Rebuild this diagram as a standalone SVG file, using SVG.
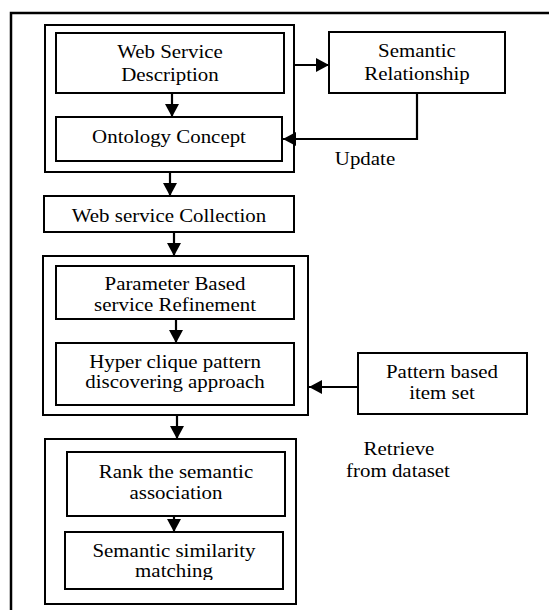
<svg xmlns="http://www.w3.org/2000/svg" width="549" height="610" viewBox="0 0 549 610">
<style>
.box{fill:#fff;stroke:#000;stroke-width:2}
.grp{fill:none;stroke:#000;stroke-width:2}
.t{font-family:"Liberation Serif","Times New Roman",serif;font-size:19px;fill:#000;text-anchor:middle}
.c{fill:none;stroke:#000;stroke-width:2.2}
</style>
<defs>
<marker id="ah" markerUnits="userSpaceOnUse" markerWidth="14" markerHeight="14" refX="13" refY="7" orient="auto">
<path d="M0,0 L13,7 L0,14 z" fill="#000"/>
</marker>
<clipPath id="clipSim"><rect x="-120" y="530" width="240" height="50"/></clipPath>
</defs>
<rect width="549" height="610" fill="#fff"/>
<path d="M11,610 V13 H549" fill="none" stroke="#000" stroke-width="2.5"/>

<g id="group1"><rect class="grp" x="45" y="25" width="249" height="147"/></g>
<g id="web-service-description">
<rect class="box" x="56" y="33" width="228" height="60"/>
<g transform="translate(170 0) scale(1.1 1)">
<text class="t" x="0" y="58">Web Service</text>
<text class="t" x="0" y="81.5">Description</text>
</g>
</g>
<g id="ontology-concept">
<rect class="box" x="56" y="117" width="226" height="44"/>
<g transform="translate(169 0) scale(1.1 1)"><text class="t" x="0" y="143">Ontology Concept</text></g>
</g>
<g id="semantic-relationship">
<rect class="box" x="329" y="32" width="176" height="61"/>
<g transform="translate(417 0) scale(1.1 1)">
<text class="t" x="0" y="57">Semantic</text>
<text class="t" x="0" y="80">Relationship</text>
</g>
</g>
<g id="update-label"><g transform="translate(365 0) scale(1.1 1)"><text class="t" x="0" y="165">Update</text></g></g>
<g id="web-service-collection">
<rect class="box" x="44" y="196" width="250" height="36"/>
<g transform="translate(169 0) scale(1.1 1)"><text class="t" x="0" y="222">Web service Collection</text></g>
</g>
<g id="group2"><rect class="grp" x="43" y="256" width="265" height="159"/></g>
<g id="parameter-based">
<rect class="box" x="56" y="266" width="238" height="53"/>
<g transform="translate(175 0) scale(1.1 1)">
<text class="t" x="0" y="290.5">Parameter Based</text>
<text class="t" x="0" y="311.5">service Refinement</text>
</g>
</g>
<g id="hyper-clique">
<rect class="box" x="56" y="343" width="238" height="62"/>
<g transform="translate(175 0) scale(1.1 1)">
<text class="t" x="0" y="368">Hyper clique pattern</text>
<text class="t" x="0" y="388.5">discovering approach</text>
</g>
</g>
<g id="pattern-based-item-set">
<rect class="box" x="358" y="353" width="169" height="61"/>
<g transform="translate(442 0) scale(1.1 1)">
<text class="t" x="0" y="378.5">Pattern based</text>
<text class="t" x="0" y="399">item set</text>
</g>
</g>
<g id="retrieve-label">
<g transform="translate(399 0) scale(1.1 1)"><text class="t" x="0" y="455">Retrieve</text></g>
<g transform="translate(398 0) scale(1.1 1)"><text class="t" x="0" y="477">from dataset</text></g>
</g>
<g id="group3"><rect class="grp" x="45" y="439" width="251" height="165"/></g>
<g id="rank">
<rect class="box" x="67" y="452" width="218" height="64"/>
<g transform="translate(176 0) scale(1.1 1)">
<text class="t" x="0" y="478.5">Rank the semantic</text>
<text class="t" x="0" y="499">association</text>
</g>
</g>
<g id="semantic-similarity">
<rect class="box" x="65" y="532" width="218" height="57"/>
<g transform="translate(174 0) scale(1.1 1)">
<text class="t" x="0" y="557">Semantic similarity</text>
<text class="t" x="0" y="577.5" clip-path="url(#clipSim)">matching</text>
</g>
</g>

<g id="connectors">
<path class="c" d="M172,93 V117" marker-end="url(#ah)"/>
<path class="c" d="M170,172 V196" marker-end="url(#ah)"/>
<path class="c" d="M174,232 V256" marker-end="url(#ah)"/>
<path class="c" d="M176,319 V343" marker-end="url(#ah)"/>
<path class="c" d="M177,415 V439" marker-end="url(#ah)"/>
<path class="c" d="M174,516 V532" marker-end="url(#ah)"/>
<path class="c" d="M294,65 H329" marker-end="url(#ah)"/>
<path class="c" d="M417,93 V139 H283" marker-end="url(#ah)"/>
<path class="c" d="M358,387 H309" marker-end="url(#ah)"/>
</g>
</svg>
